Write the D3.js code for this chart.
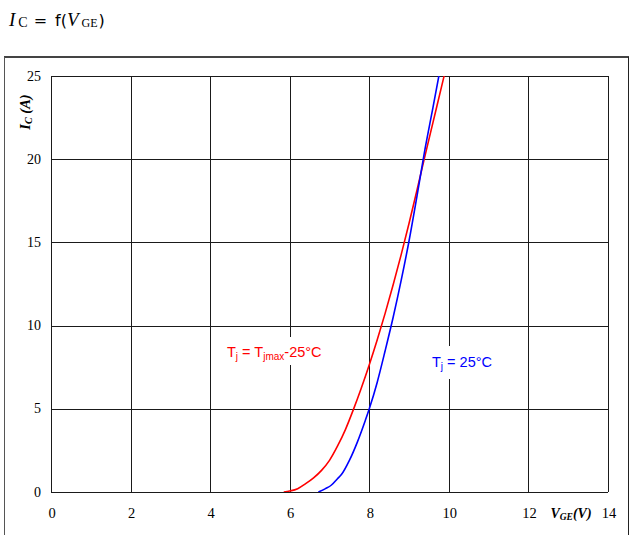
<!DOCTYPE html>
<html>
<head>
<meta charset="utf-8">
<script src="https://cdn.jsdelivr.net/npm/d3@7"></script>
<style>
  html, body { margin: 0; padding: 0; background: #fff; }
  svg { display: block; }
</style>
</head>
<body>
<svg id="chart" width="629" height="535"></svg>
<script>
// Transfer characteristic I_C = f(V_GE) at two junction temperatures
const xTicks = [0, 2, 4, 6, 8, 10, 12, 14];
const yTicks = [0, 5, 10, 15, 20, 25];

// Tj = Tjmax - 25°C
const hotVge = [5.85, 6.0, 6.2, 6.4, 6.6, 6.8, 7.0, 7.2, 7.4, 7.6, 7.8, 8.0, 8.2, 8.4, 8.6, 8.8, 9.0, 9.2, 9.4, 9.6, 9.8, 9.92];
const hotIc  = [0, 0.06, 0.2, 0.5, 0.85, 1.3, 1.9, 2.75, 3.75, 4.95, 6.25, 7.65, 9.15, 10.75, 12.45, 14.25, 16.15, 18.15, 20.2, 22.2, 24.2, 25.4];

// Tj = 25°C
const coldVge = [6.72, 6.9, 7.05, 7.2, 7.3, 7.5, 7.7, 7.9, 8.0, 8.2, 8.4, 8.6, 8.8, 9.0, 9.2, 9.4, 9.6, 9.78];
const coldIc  = [0, 0.2, 0.42, 0.8, 1.05, 1.9, 3.0, 4.3, 5.0, 6.6, 8.5, 10.5, 12.7, 15.1, 17.8, 20.6, 23.1, 25.4];

const svg = d3.select("#chart");
const x = d3.scaleLinear().domain([0, 14]).range([51, 608]);
const y = d3.scaleLinear().domain([0, 25]).range([492, 76]);
const px = v => Math.round(v) + 0.5;

// outer frame
svg.append("line").attr("x1", 4).attr("x2", 629).attr("y1", 57).attr("y2", 57)
  .attr("stroke", "#444").attr("stroke-width", 2);
svg.append("line").attr("x1", 4.5).attr("x2", 4.5).attr("y1", 57).attr("y2", 535)
  .attr("stroke", "#555").attr("stroke-width", 1);
svg.append("line").attr("x1", 628.5).attr("x2", 628.5).attr("y1", 57).attr("y2", 535)
  .attr("stroke", "#222").attr("stroke-width", 1);

// title
const title = svg.append("text").attr("x", 9).attr("y", 26).attr("fill", "#000");
title.append("tspan").attr("font-family", "Liberation Serif").attr("font-style", "italic").attr("font-size", 19).text("I");
title.append("tspan").attr("font-family", "Liberation Serif").attr("font-size", 14).attr("dx", 3).attr("dy", 1).text("C");
title.append("tspan").attr("font-family", "DejaVu Sans").attr("font-size", 16).attr("dx", 6).attr("dy", -1).text("=");
title.append("tspan").attr("font-family", "DejaVu Sans").attr("font-size", 16).attr("dx", 8).text("f(");
title.append("tspan").attr("font-family", "Liberation Serif").attr("font-style", "italic").attr("font-size", 19).text("V");
title.append("tspan").attr("font-family", "Liberation Serif").attr("font-size", 12).attr("dx", 3).attr("dy", 1).text("GE");
title.append("tspan").attr("font-family", "DejaVu Sans").attr("font-size", 16).attr("dx", 1).attr("dy", -1).text(")");

// grid
const grid = svg.append("g").attr("stroke", "#1a1a1a").attr("stroke-width", 1).attr("shape-rendering", "crispEdges");
grid.selectAll("line.v").data(xTicks).join("line").attr("class", "v")
  .attr("x1", d => px(x(d))).attr("x2", d => px(x(d)))
  .attr("y1", y(25)).attr("y2", y(0));
grid.selectAll("line.h").data(yTicks).join("line").attr("class", "h")
  .attr("x1", x(0)).attr("x2", x(14))
  .attr("y1", d => px(y(d))).attr("y2", d => px(y(d)));

// tick labels
svg.append("g").selectAll("text").data(xTicks).join("text")
  .attr("x", d => x(d) + 1).attr("y", 518)
  .attr("text-anchor", "middle")
  .attr("font-family", "Liberation Serif, Times New Roman, serif").attr("font-size", 14.5).attr("fill", "#000")
  .text(d => d);
svg.append("g").selectAll("text").data(yTicks).join("text")
  .attr("x", 41).attr("y", d => y(d) + 4.5)
  .attr("text-anchor", "end")
  .attr("font-family", "Liberation Serif, Times New Roman, serif").attr("font-size", 14).attr("fill", "#000")
  .text(d => d);

// axis titles
const xt = svg.append("text").attr("x", 571).attr("y", 518).attr("text-anchor", "middle")
  .attr("font-family", "Liberation Serif, Times New Roman, serif").attr("font-weight", "bold").attr("font-style", "italic")
  .attr("font-size", 14).attr("fill", "#000");
xt.append("tspan").text("V");
xt.append("tspan").attr("font-size", 9.5).attr("dy", 2).text("GE");
xt.append("tspan").attr("dy", -2).text("(V)");

const yt = svg.append("text").attr("transform", "translate(30,112) rotate(-90)").attr("text-anchor", "middle")
  .attr("font-family", "Liberation Serif, Times New Roman, serif").attr("font-weight", "bold").attr("font-style", "italic")
  .attr("font-size", 14.5).attr("fill", "#000");
yt.append("tspan").text("I");
yt.append("tspan").attr("font-size", 10).attr("dy", 2).text("C");
yt.append("tspan").attr("dy", -2).text(" (A)");

// curves, clipped to the plot area
svg.append("clipPath").attr("id", "plot").append("rect")
  .attr("x", x(0)).attr("y", y(25)).attr("width", x(14) - x(0)).attr("height", y(0) - y(25));
const line = d3.line().x(d => x(d[0])).y(d => y(d[1])).curve(d3.curveMonotoneX);
const curves = svg.append("g").attr("clip-path", "url(#plot)").attr("fill", "none").attr("stroke-width", 1.6);
curves.append("path").attr("stroke", "#ff0000").attr("d", line(d3.zip(hotVge, hotIc)));
curves.append("path").attr("stroke", "#0000ff").attr("d", line(d3.zip(coldVge, coldIc)));

// series labels with white backing
function label(tx, ty, color, parts, box) {
  svg.append("rect").attr("x", box[0]).attr("y", box[1]).attr("width", box[2]).attr("height", box[3]).attr("fill", "#fff");
  const t = svg.append("text").attr("x", tx).attr("y", ty)
    .attr("font-family", "Liberation Sans, Arial, sans-serif").attr("font-size", 14.5).attr("fill", color);
  parts.forEach(p => {
    const s = t.append("tspan").text(p.t);
    if (p.sub) s.attr("font-size", 10).attr("dy", 3);
    if (p.up) s.attr("dy", -3);
  });
}
label(227, 357, "#ff0000",
  [{t: "T"}, {t: "j", sub: true}, {t: " = T", up: true}, {t: "jmax", sub: true}, {t: "-25°C", up: true}],
  [222, 337, 108, 28]);
label(432, 367, "#0000ff",
  [{t: "T"}, {t: "j", sub: true}, {t: " = 25°C", up: true}],
  [428, 346, 70, 33]);
</script>
</body>
</html>
